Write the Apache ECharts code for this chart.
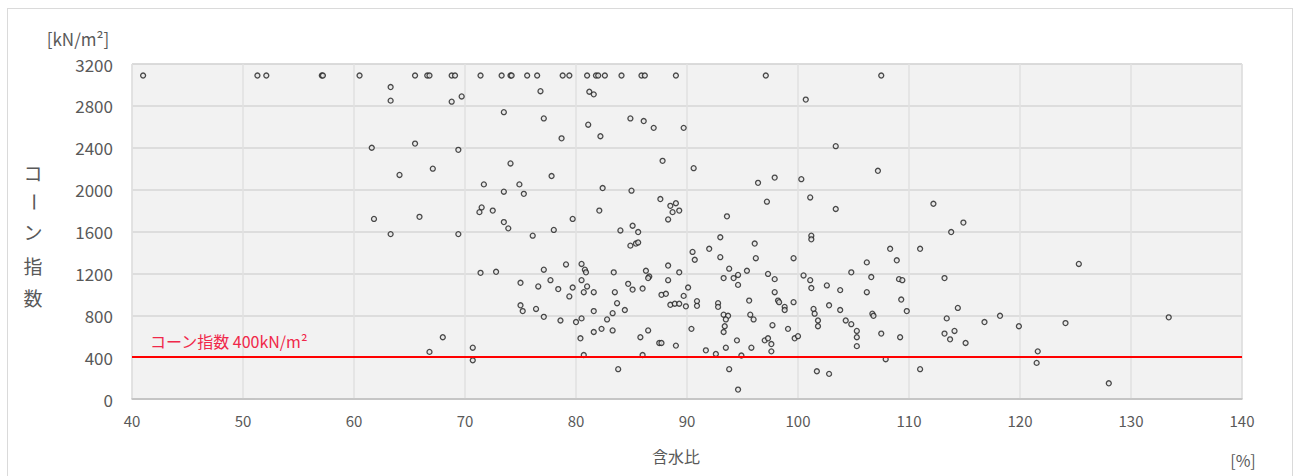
<!DOCTYPE html>
<html>
<head>
<meta charset="utf-8">
<script src="https://cdn.jsdelivr.net/npm/echarts@6/dist/echarts.min.js"></script>
<style>
  html, body { margin: 0; padding: 0; background: #ffffff; }
  #frame { position: absolute; left: 7px; top: 8px; width: 1286px; height: 480px; border: 1px solid #dadada; box-sizing: border-box; }
  #chart { position: absolute; left: 0; top: 0; width: 1293px; height: 476px; }
</style>
</head>
<body>
<div id="frame"></div>
<div id="chart"></div>
<script>
// 含水比 [%] と コーン指数 [kN/m²] の測定値
const samples = [
  // 上限付近の値
  [41.0,3090],[51.3,3090],[52.1,3090],[57.1,3090],[57.2,3090],[60.5,3090],[65.5,3090],[66.6,3090],[66.8,3090],[68.8,3090],
  [69.1,3090],[71.4,3090],[73.3,3090],[74.1,3090],[74.2,3090],[75.6,3090],[76.5,3090],[78.8,3090],[79.4,3090],[81.0,3090],
  [81.8,3090],[82.0,3090],[82.6,3090],[84.1,3090],[85.9,3090],[86.2,3090],[89.0,3090],[97.1,3090],[107.5,3090],
  // 含水比 60〜70%
  [63.3,2980],[63.3,2850],[68.8,2840],[69.7,2890],[61.6,2400],[65.5,2440],[69.4,2380],[67.1,2200],[64.1,2140],[61.8,1720],
  [65.9,1740],[63.3,1575],[69.4,1575],[68.0,590],[66.8,450],[70.7,490],[70.7,370],
  // 含水比 70〜83%
  [76.8,2940],[81.2,2935],[81.6,2910],[73.5,2740],[77.1,2680],[81.1,2620],[78.7,2490],[82.2,2510],[74.1,2250],[77.8,2130],
  [71.7,2050],[74.9,2050],[73.5,1980],[75.3,1960],[82.4,2015],[71.5,1830],[71.3,1785],[72.5,1800],[82.1,1800],[73.5,1690],
  [73.9,1630],[79.7,1720],[76.1,1560],[78.0,1615],[71.4,1205],[72.8,1215],[77.1,1235],[79.1,1285],[80.5,1290],[80.8,1235],
  [80.9,1210],[75.0,1110],[76.6,1075],[77.7,1135],[78.4,1050],[79.7,1065],[80.5,1135],[81.0,1075],[79.4,980],[80.7,1020],
  [81.6,1020],[75.0,895],[75.2,840],[76.4,860],[77.1,785],[78.6,750],[80.0,735],[80.5,770],[81.6,840],[82.8,760],
  [81.6,640],[82.3,670],[80.4,580],[80.7,420],
  // 含水比 83〜95%
  [84.9,2680],[86.1,2655],[87.0,2590],[89.7,2590],[87.8,2275],[90.6,2205],[85.0,1990],[87.6,1910],[88.5,1845],[89.0,1870],
  [88.7,1785],[89.3,1800],[88.3,1715],[93.6,1745],[84.0,1610],[85.1,1655],[85.6,1595],[84.9,1465],[85.4,1485],[85.6,1495],
  [93.0,1545],[90.5,1405],[90.7,1330],[92.0,1435],[93.0,1355],[83.4,1210],[86.3,1225],[86.6,1170],[86.5,1155],[88.3,1275],
  [89.3,1210],[93.8,1245],[93.3,1155],[94.2,1155],[94.6,1185],[94.6,1090],[84.7,1100],[85.1,1045],[86.0,1055],[88.3,1135],
  [83.5,1020],[83.7,915],[84.4,850],[83.3,820],[83.3,655],[87.7,995],[88.1,1005],[90.1,1065],[89.7,985],[88.5,900],
  [88.9,910],[89.3,910],[89.9,885],[90.9,935],[90.9,890],[92.8,915],[92.8,880],[93.3,805],[93.7,795],[93.5,760],
  [93.4,695],[93.3,640],[94.5,560],[90.4,670],[86.5,655],[85.8,590],[87.5,535],[87.7,535],[89.0,510],[86.0,420],
  [91.7,465],[92.6,430],[93.5,490],[83.8,285],[93.8,285],[94.6,90],
  // 含水比 95〜106%
  [100.7,2860],[103.4,2415],[96.4,2065],[97.9,2115],[100.3,2100],[97.2,1885],[101.1,1925],[103.4,1815],[101.2,1560],[101.2,1525],
  [96.1,1485],[96.2,1345],[99.6,1345],[106.2,1305],[95.4,1225],[97.3,1195],[97.9,1145],[100.5,1180],[101.1,1135],[101.2,1060],
  [102.6,1085],[103.8,1040],[104.8,1210],[97.9,1020],[95.6,940],[98.2,940],[98.3,925],[98.8,880],[98.8,850],[99.6,925],
  [102.8,895],[95.7,805],[96.0,760],[97.7,705],[101.4,860],[101.5,815],[101.8,750],[101.8,695],[103.8,850],[104.3,750],
  [104.8,715],[105.3,650],[105.3,590],[105.3,505],[99.1,670],[99.7,580],[100.0,600],[97.0,560],[97.3,580],[97.6,525],
  [97.6,455],[95.8,490],[94.9,415],[101.7,265],[102.8,240],
  // 含水比 106% 以上
  [107.2,2180],[112.2,1865],[114.9,1685],[113.8,1595],[108.3,1435],[111.0,1435],[108.9,1325],[106.6,1165],[109.1,1145],[109.4,1135],
  [113.2,1155],[106.2,1020],[109.3,950],[109.8,840],[106.7,815],[106.8,795],[114.4,870],[113.4,770],[116.8,735],[118.2,795],
  [107.5,625],[109.2,590],[113.2,625],[114.1,650],[113.7,570],[115.1,535],[107.9,380],[111.0,285],[125.3,1290],[119.9,695],
  [124.1,725],[133.4,780],[121.6,455],[121.5,345],[128.0,150]
];

// 基準線 (コーン指数 400kN/m²)
const thresholdValue = 400;
const thresholdLabel = 'コーン指数 400kN/m²';

const xRange = [40, 140, 10];
const yRange = [0, 3200, 400];

const yTitleChars = ['コ', 'ー', 'ン', '指', '数'];

const FONT = '"Noto Sans CJK JP", "Noto Sans", sans-serif';
const GRAY = '#595959';

const chart = echarts.init(document.getElementById('chart'), null, { renderer: 'svg' });

// 縦書きの軸タイトル（長音符は回転させて縦向きにする）
const yTitleY = [172, 202, 231, 265, 297];
const yTitle = yTitleChars.map((ch, i) => ({
  type: 'text',
  x: 33,
  y: yTitleY[i],
  rotation: ch === 'ー' ? Math.PI / 2 : 0,
  style: { text: ch, fill: GRAY, font: '19px ' + FONT, textAlign: 'center', textVerticalAlign: 'middle' }
}));

chart.setOption({
  animation: false,
  grid: {
    left: 132, right: 51, top: 64, bottom: 77,
    show: true, backgroundColor: '#f2f2f2', borderColor: '#d4d4d4', borderWidth: 1
  },
  xAxis: {
    type: 'value', min: xRange[0], max: xRange[1], interval: xRange[2],
    axisLine: { show: true, lineStyle: { color: '#bfbfbf', width: 1.5 } },
    axisTick: { show: false },
    axisLabel: { color: GRAY, fontSize: 15, margin: 14, fontFamily: FONT },
    splitLine: { show: true, lineStyle: { color: '#e0e0e0', width: 1.5 } }
  },
  yAxis: {
    type: 'value', min: yRange[0], max: yRange[1], interval: yRange[2],
    axisLine: { show: false },
    axisTick: { show: false },
    axisLabel: { color: GRAY, fontSize: 17, margin: 19, fontFamily: FONT, formatter: v => String(v) },
    splitLine: { show: true, lineStyle: { color: '#d6d6d6', width: 1.5 } }
  },
  series: [{
    type: 'scatter',
    data: samples,
    symbol: 'circle',
    symbolSize: 5,
    itemStyle: { color: '#e6e6e6', borderColor: '#1f1f1f', borderWidth: 1.3 },
    silent: true,
    markLine: {
      silent: true,
      symbol: 'none',
      lineStyle: { color: '#ff0000', width: 2, type: 'solid' },
      label: {
        show: true,
        position: 'insideStartTop',
        formatter: thresholdLabel,
        color: '#f0284a',
        fontSize: 16,
        fontFamily: FONT,
        distance: [18, 8]
      },
      data: [{ yAxis: thresholdValue }]
    }
  }],
  graphic: [
    { type: 'text', x: 78, y: 38, style: { text: '[kN/m²]', fill: GRAY, font: '17px ' + FONT, textAlign: 'center', textVerticalAlign: 'middle' } },
    { type: 'text', x: 676, y: 456, style: { text: '含水比', fill: GRAY, font: '16px ' + FONT, textAlign: 'center', textVerticalAlign: 'middle' } },
    { type: 'text', x: 1243, y: 460, style: { text: '[%]', fill: GRAY, font: '16px ' + FONT, textAlign: 'center', textVerticalAlign: 'middle' } }
  ].concat(yTitle)
});
</script>
</body>
</html>
